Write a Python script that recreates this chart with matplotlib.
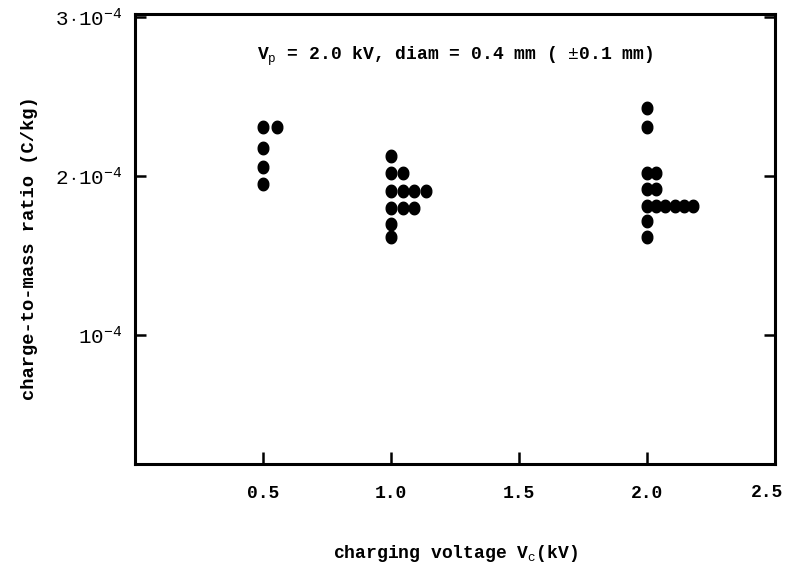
import matplotlib
matplotlib.use("Agg")
import matplotlib.pyplot as plt
import numpy as np
from collections import Counter

# Data (charge-to-mass ratio in units of 1e-4 C/kg)
voltages = [0.5, 1.0, 2.0]
q_m_05 = [2.31, 2.31, 2.18, 2.06, 1.95]
q_m_10 = [2.13, 2.02, 2.02, 1.91, 1.91, 1.91, 1.91, 1.80, 1.80, 1.80, 1.70, 1.62]
q_m_20 = [2.43, 2.31, 2.02, 2.02, 1.92, 1.92, 1.81, 1.81, 1.81, 1.81, 1.81, 1.81, 1.72, 1.62]
groups = [q_m_05, q_m_10, q_m_20]
x_ticks = [0.5, 1.0, 1.5, 2.0]
x_ticklabels = ["0.5", "1.0", "1.5", "2.0"]
y_ticks = [1e-4, 2e-4, 3e-4]
y_ticklabels = [r"$10^{-4}$", r"$2\cdot10^{-4}$", r"$3\cdot10^{-4}$"]

# style
steps = [0.055, 0.045, 0.036]
font = "Liberation Mono"
plt.rcParams['mathtext.fontset'] = 'custom'
plt.rcParams['mathtext.rm'] = font
plt.rcParams['mathtext.it'] = font
plt.rcParams['mathtext.bf'] = font + ":bold"

fig = plt.figure(figsize=(7.9, 5.86), dpi=100)
ax = fig.add_axes([135/790, 1-464/586, (775-135)/790, (464-14)/586])

theta = np.linspace(0, 2*np.pi, 40)
ellipse = np.column_stack([np.cos(theta)*0.85, np.sin(theta)])

for v, vals, st in zip(voltages, groups, steps):
    seen = Counter()
    xs, ys = [], []
    for q in vals:
        xs.append(v + seen[q]*st)
        ys.append(q*1e-4)
        seen[q] += 1
    ax.plot(xs, ys, linestyle='none', marker=ellipse, ms=9, color='black', mec='black')

ax.set_xlim(0.0, 2.5)
ax.set_ylim(0.19e-4, 3.02e-4)
ax.set_xticks(x_ticks)
ax.set_xticklabels(x_ticklabels, fontfamily=font, fontsize=13, fontweight='bold')
ax.set_yticks(y_ticks)
ax.set_yticklabels(y_ticklabels, fontsize=15)
ax.tick_params(axis='x', direction='in', length=9, width=1.8, pad=15, top=False)
ax.tick_params(axis='y', direction='in', length=8, width=1.8, pad=9, left=True, right=True)
for s in ax.spines.values():
    s.set_linewidth(2.2)

ax.text(0.5, 0.905, r"V$_\mathrm{p}$ = 2.0 kV, diam = 0.4 mm ( $\pm$0.1 mm)",
        transform=ax.transAxes, ha='center', va='center', fontfamily=font,
        fontsize=13, fontweight='bold')
ax.text(2.47, -0.063, "2.5", transform=ax.get_xaxis_transform(), ha='center', va='center',
        fontfamily=font, fontsize=13, fontweight='bold')
ax.set_xlabel(r"charging voltage V$_\mathrm{c}$(kV)", fontfamily=font, fontsize=13,
              fontweight='bold', labelpad=30)
ax.set_ylabel("charge-to-mass ratio (C/kg)", fontfamily=font, fontsize=13.5,
              fontweight='bold')
ax.yaxis.set_label_coords(-0.152, 0.48)

fig.savefig("out.png", dpi=100)
